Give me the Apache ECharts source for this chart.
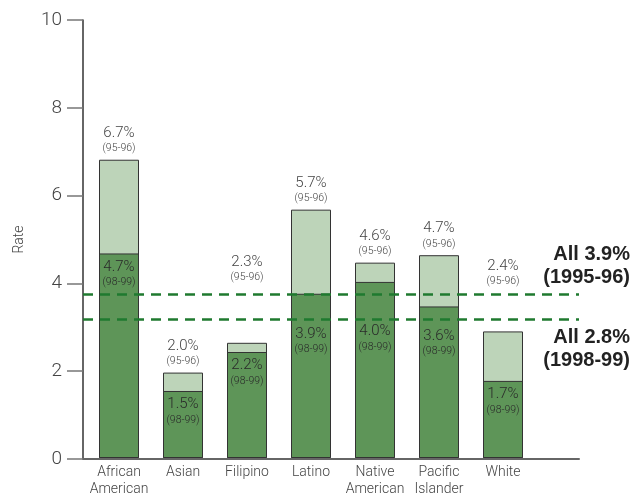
<!DOCTYPE html>
<html>
<head>
<meta charset="utf-8">
<script src="https://cdn.jsdelivr.net/npm/echarts@6/dist/echarts.min.js"></script>
<style>
  html, body { margin: 0; padding: 0; background: #fff; }
  #chart { width: 636px; height: 498px; }
</style>
</head>
<body>
<div id="chart"></div>
<script>
// groups on the x axis
const groups = ['African\nAmerican', 'Asian', 'Filipino', 'Latino', 'Native\nAmerican', 'Pacific\nIslander', 'White'];
// bar heights as drawn
const rate9596 = [6.81, 1.95, 2.63, 5.67, 4.46, 4.63, 2.89];
const rate9899 = [4.67, 1.53, 2.42, 3.75, 4.02, 3.46, 1.76];
// printed labels
const label9596 = ['6.7%', '2.0%', '2.3%', '5.7%', '4.6%', '4.7%', '2.4%'];
const label9899 = ['4.7%', '1.5%', '2.2%', '3.9%', '4.0%', '3.6%', '1.7%'];
// overall rate lines
const allRates = [3.76, 3.19];
const allText = [['All 3.9%', '(1995-96)'], ['All 2.8%', '(1998-99)']];
const yTicks = [0, 2, 4, 6, 8, 10];

// extra lift of the top label above the bar (px)
const labelLift = [0, 0, 54, 0, 0, 0, 39];
// extra drop of the inside label so it clears the dashed lines (px)
const labelDrop = [0, 0, 0, 27, 36, 16, 0];

const font = 'Roboto, "Liberation Sans", sans-serif';

const myEcharts = echarts.init(document.getElementById('chart'));

const option = {
  animation: false,
  textStyle: { fontFamily: font },
  grid: [
    { left: 87, right: 101, top: 20, bottom: 39 },
    { left: 83, right: 57, top: 20, bottom: 39 },
  ],
  xAxis: [
    {
      type: 'category',
      gridIndex: 0,
      data: groups,
      axisLine: { show: false },
      axisTick: { show: false },
      axisLabel: {
        interval: 0,
        color: '#444',
        fontSize: 14,
        fontWeight: 300,
        lineHeight: 17,
        margin: 6,
        fontFamily: font,
      },
      z: 5,
    },
    {
      type: 'value',
      gridIndex: 1,
      min: 0,
      max: 1,
      axisLine: { show: true, lineStyle: { color: '#666', width: 2 } },
      axisTick: { show: false },
      axisLabel: { show: false },
      splitLine: { show: false },
    },
  ],
  yAxis: [
    {
      type: 'value',
      gridIndex: 0,
      min: 0,
      max: 10,
      show: false,
    },
    {
      type: 'value',
      gridIndex: 1,
      min: 0,
      max: 10,
      interval: 2,
      name: 'Rate',
      nameLocation: 'middle',
      nameGap: 57,
      nameTextStyle: { color: '#444', fontSize: 14, fontWeight: 300, fontFamily: font },
      axisLine: { show: true, lineStyle: { color: '#333', width: 1.5 } },
      axisTick: { show: true, length: 16, lineStyle: { color: '#777', width: 1.5 } },
      axisLabel: {
        color: '#444',
        fontSize: 19,
        fontWeight: 300,
        margin: 21,
        fontFamily: font,
        formatter: v => (yTicks.indexOf(v) >= 0 ? String(v) : ''),
      },
      splitLine: { show: false },
    },
  ],
  series: [
    {
      type: 'bar',
      xAxisIndex: 0,
      yAxisIndex: 0,
      barWidth: 40,
      barGap: '-100%',
      itemStyle: { color: '#bdd4b9', borderColor: '#333', borderWidth: 1 },
      data: rate9596.map((v, i) => ({
        value: v,
        label: { distance: 4 + labelLift[i] },
      })),
      label: {
        show: true,
        position: 'top',
        formatter: p => '{a|' + label9596[p.dataIndex] + '}\n{b|(95-96)}',
        rich: {
          a: { fontSize: 15, fontWeight: 300, color: '#444', lineHeight: 17, fontFamily: font },
          b: { fontSize: 10.5, fontWeight: 300, color: '#444', lineHeight: 14, fontFamily: font },
        },
      },
      z: 2,
    },
    {
      type: 'bar',
      xAxisIndex: 0,
      yAxisIndex: 0,
      barWidth: 40,
      itemStyle: { color: '#5e9558', borderColor: '#333', borderWidth: 1 },
      data: rate9899.map((v, i) => ({
        value: v,
        label: { distance: 5 + labelDrop[i] },
      })),
      label: {
        show: true,
        position: 'insideTop',
        formatter: p => '{a|' + label9899[p.dataIndex] + '}\n{b|(98-99)}',
        rich: {
          a: { fontSize: 15, fontWeight: 300, color: '#2a2a2a', lineHeight: 17, fontFamily: font },
          b: { fontSize: 10.5, fontWeight: 300, color: '#2a2a2a', lineHeight: 14, fontFamily: font },
        },
      },
      z: 3,
    },
    {
      type: 'line',
      xAxisIndex: 1,
      yAxisIndex: 1,
      data: [],
      silent: true,
      markLine: {
        symbol: 'none',
        silent: true,
        label: { show: false },
        lineStyle: { color: '#1f7a2f', width: 2.5, type: [10, 7] },
        data: allRates.map(v => ({ yAxis: v })),
      },
      z: 4,
    },
  ],
  graphic: [
    {
      type: 'text',
      right: 6,
      top: 243,
      style: {
        text: allText[0][0] + '\n' + allText[0][1],
        font: 'bold 20px "Liberation Sans", Arial, sans-serif',
        fill: '#222',
        textAlign: 'right',
        lineHeight: 23,
      },
    },
    {
      type: 'text',
      right: 6,
      top: 326,
      style: {
        text: allText[1][0] + '\n' + allText[1][1],
        font: 'bold 20px "Liberation Sans", Arial, sans-serif',
        fill: '#222',
        textAlign: 'right',
        lineHeight: 23,
      },
    },
  ],
};

myEcharts.setOption(option);
</script>
</body>
</html>
